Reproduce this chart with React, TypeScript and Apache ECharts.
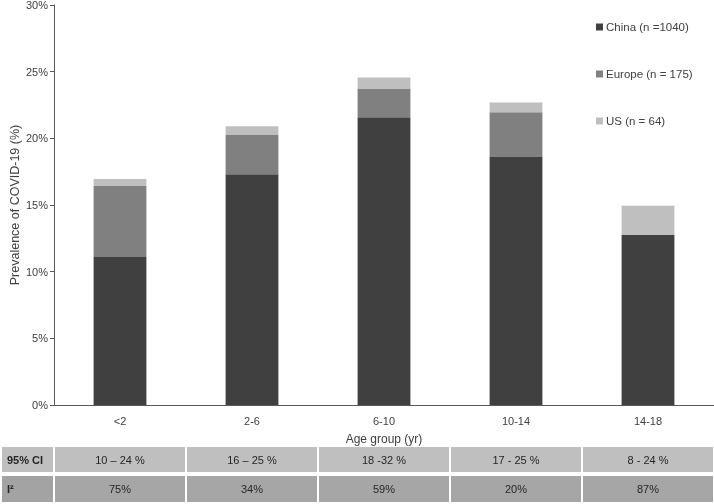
import React, { useEffect, useRef } from "react";
import * as echarts from "echarts";

const categories = ["<2", "2-6", "6-10", "10-14", "14-18"];
const seriesNames = ["China (n =1040)", "Europe (n = 175)", "US (n = 64)"];
const china = [11.1, 17.3, 21.58, 18.6, 12.75];
const europe = [5.33, 2.95, 2.15, 3.35, 0];
const us = [0.52, 0.65, 0.84, 0.73, 2.2];
const seriesColors = ["#404040", "#808080", "#bfbfbf"];
const ciLabels = ["10 – 24 %", "16 – 25 %", "18 -32 %", "17 - 25 %", "8 - 24 %"];
const i2Labels = ["75%", "34%", "59%", "20%", "87%"];
const rowHeaders = ["95% CI", "I²"];

const FONT = "'Liberation Sans', Arial, sans-serif";

export default function App() {
  const ref = useRef<HTMLDivElement>(null);
  useEffect(() => {
    document.body.style.margin = "0";
    const chart = echarts.init(ref.current!, null, { renderer: "svg" });
    const option: any = {
      animation: false,
      textStyle: { fontFamily: FONT },
      grid: { left: 54, right: 0, top: 5, bottom: 99, containLabel: false, outerBoundsMode: "none" },
      legend: {
        orient: "vertical",
        left: 591,
        top: 16,
        itemWidth: 7,
        itemHeight: 7,
        itemGap: 35,
        icon: "rect",
        textStyle: { fontFamily: FONT, fontSize: 11.5, color: "#404040", padding: [0, 0, 0, -2] },
        data: seriesNames,
      },
      xAxis: {
        type: "category",
        data: categories,
        axisTick: { show: false },
        axisLine: { lineStyle: { color: "#595959", width: 1 } },
        axisLabel: { color: "#404040", fontSize: 11, margin: 10, fontFamily: FONT },
        name: "Age group (yr)",
        nameLocation: "middle",
        nameGap: 28,
        nameMoveOverlap: false,
        nameTextStyle: { color: "#404040", fontSize: 12, fontFamily: FONT },
      },
      yAxis: {
        type: "value",
        min: 0,
        max: 30,
        interval: 5,
        splitLine: { show: false },
        axisLine: { show: true, lineStyle: { color: "#595959", width: 1 } },
        axisTick: { show: true, length: 4, lineStyle: { color: "#595959" } },
        axisLabel: { formatter: "{value}%", color: "#404040", fontSize: 11, margin: 6, fontFamily: FONT },
        name: "Prevalence of COVID-19 (%)",
        nameLocation: "middle",
        nameGap: 33,
        nameMoveOverlap: false,
        nameTextStyle: { color: "#404040", fontSize: 12.5, fontFamily: FONT },
      },
      series: [china, europe, us].map((d, i) => ({
        name: seriesNames[i],
        type: "bar",
        stack: "total",
        barWidth: "40%",
        data: d,
        itemStyle: { color: seriesColors[i] },
      })),
    };
    chart.setOption(option);

    const centers = categories.map((c) => chart.convertToPixel({ xAxisIndex: 0 }, c) as number);
    const step = centers.length > 1 ? centers[1] - centers[0] : 132;
    const rows = [
      { y: 447, h: 25, color: "#bfbfbf", headColor: "#bfbfbf", labels: ciLabels },
      { y: 476, h: 26, color: "#a6a6a6", headColor: "#a3a3a3", labels: i2Labels },
    ];
    const elements: any[] = [];
    rows.forEach((r, ri) => {
      const left0 = centers[0] - step / 2;
      elements.push({
        type: "rect",
        shape: { x: 2, y: r.y, width: left0 - 3, height: r.h },
        style: { fill: r.headColor },
      });
      elements.push({
        type: "text",
        x: 7,
        y: r.y + r.h / 2,
        style: {
          text: rowHeaders[ri],
          font: `bold 11px ${FONT}`,
          fill: "#262626",
          verticalAlign: "middle",
          align: "left",
        },
      });
      centers.forEach((cx, ci) => {
        elements.push({
          type: "rect",
          shape: { x: cx - step / 2 + 1, y: r.y, width: step - 2, height: r.h },
          style: { fill: r.color },
        });
        elements.push({
          type: "text",
          x: cx,
          y: r.y + r.h / 2,
          style: {
            text: r.labels[ci],
            font: `11px ${FONT}`,
            fill: "#262626",
            verticalAlign: "middle",
            align: "center",
          },
        });
      });
    });
    chart.setOption({ graphic: elements });
    return () => chart.dispose();
  }, []);
  return <div ref={ref} style={{ position: "fixed", left: 0, top: 0, width: 714, height: 504 }} />;
}
